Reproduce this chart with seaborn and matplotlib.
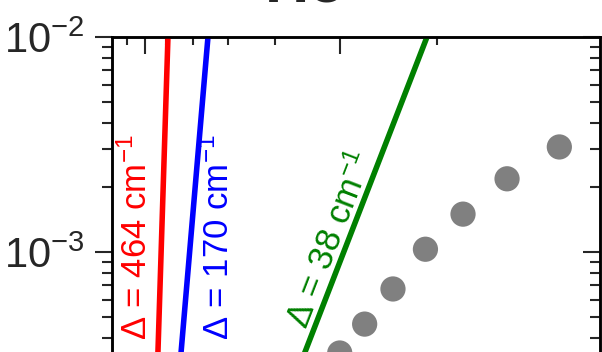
import numpy as np
import matplotlib
matplotlib.use('Agg')
from matplotlib import pyplot as plt
from matplotlib import ticker
import seaborn as sns

# measured points: temperature (K) and relaxation time (s)
T_obs = np.array([3.2, 3.5, 3.8, 4.1, 4.4, 4.7, 5.0])
tau_obs = np.array([3.08e-3, 2.19e-3, 1.50e-3, 1.03e-3, 6.73e-4, 4.62e-4, 3.39e-4])

# Orbach lines, end points (1/T in K^-1, tau in s)
red_invT = [0.1050, 0.1120]
blue_invT = [0.1137, 0.1325]
green_invT = [0.1594, 0.2447]
line_tau = [1e-4, 1e-2]

line_labels = ['Δ = 464 cm$^{-1}$', 'Δ = 170 cm$^{-1}$', 'Δ = 38 cm$^{-1}$']

# top axis temperatures
T_major = [10, 5]
T_minor = [11, 9, 8, 7, 6, 4]
tau_major = [1e-3, 1e-2]

sns.set_style('ticks')
plt.rcParams['font.family'] = ['Liberation Sans', 'DejaVu Sans']
plt.rcParams['mathtext.fontset'] = 'custom'
plt.rcParams['mathtext.rm'] = 'Liberation Sans'
plt.rcParams['mathtext.it'] = 'Liberation Sans:italic'

fig = plt.figure(figsize=(6.02, 3.52), dpi=100)
ax = fig.add_axes([112 / 602, -0.3267, 488 / 602, 1.2216])

sns.lineplot(x=red_invT, y=line_tau, color='#ff0000', linewidth=4, sort=False, ax=ax, zorder=3)
sns.lineplot(x=blue_invT, y=line_tau, color='#0000ff', linewidth=4, sort=False, ax=ax, zorder=3)
sns.lineplot(x=green_invT, y=line_tau, color='#008000', linewidth=4, sort=False, ax=ax, zorder=3)
sns.scatterplot(x=1 / T_obs, y=tau_obs, color='#808080', s=330, edgecolor='none', ax=ax, zorder=4)

ax.set_yscale('log')
ax.set_xlim(1 / 12, 1 / 3)
ax.set_ylim(1e-4, 1e-2)

# labels along the lines
ax.text(0.10126, 3.9e-4, line_labels[0], color='#ff0000', fontsize=25,
        rotation=90, rotation_mode='anchor', ha='left', va='baseline')
ax.text(0.14327, 3.9e-4, line_labels[1], color='#0000ff', fontsize=25,
        rotation=90, rotation_mode='anchor', ha='left', va='baseline')
ax.text(0.18323, 4.34e-4, line_labels[2], color='#008000', fontsize=25,
        rotation=68.8, rotation_mode='anchor', ha='left', va='baseline')

# x ticks only on top, pointing in
ax.set_xticks([1 / t for t in T_major])
ax.set_xticks([1 / t for t in T_minor], minor=True)
ax.tick_params(axis='x', which='both', top=True, bottom=False, labeltop=False,
               labelbottom=False, direction='in', width=1.5)
ax.tick_params(axis='x', which='major', length=12)
ax.tick_params(axis='x', which='minor', length=5.5)

# y ticks left, pointing out
ax.set_yticks(tau_major)
ax.yaxis.set_minor_locator(ticker.LogLocator(base=10, subs=np.arange(2, 10)))
ax.yaxis.set_major_formatter(ticker.FuncFormatter(
    lambda v, p: r'$\mathregular{10^{%d}}$' % round(np.log10(v))))
ax.yaxis.set_minor_formatter(ticker.NullFormatter())
ax.tick_params(axis='y', which='both', left=True, right=False, direction='out',
               width=1.5, labelsize=30, pad=8)
ax.tick_params(axis='y', which='major', length=12)
ax.tick_params(axis='y', which='minor', length=7)

# right side ticks pointing in
ax2 = ax.twinx()
ax2.set_yscale('log')
ax2.set_ylim(ax.get_ylim())
ax2.set_yticks(tau_major)
ax2.yaxis.set_minor_locator(ticker.LogLocator(base=10, subs=np.arange(2, 10)))
ax2.tick_params(axis='y', which='both', direction='in', width=1.5, labelright=False)
ax2.tick_params(axis='y', which='major', length=12)
ax2.tick_params(axis='y', which='minor', length=7)

for a in (ax, ax2):
    for s in a.spines.values():
        s.set_linewidth(1.8)
        s.set_color('black')

fig.text(265 / 602, 1 - 1 / 352, 'Ho', fontsize=44, fontweight='bold',
         ha='left', va='baseline')

fig.savefig('out.png', dpi=100)
